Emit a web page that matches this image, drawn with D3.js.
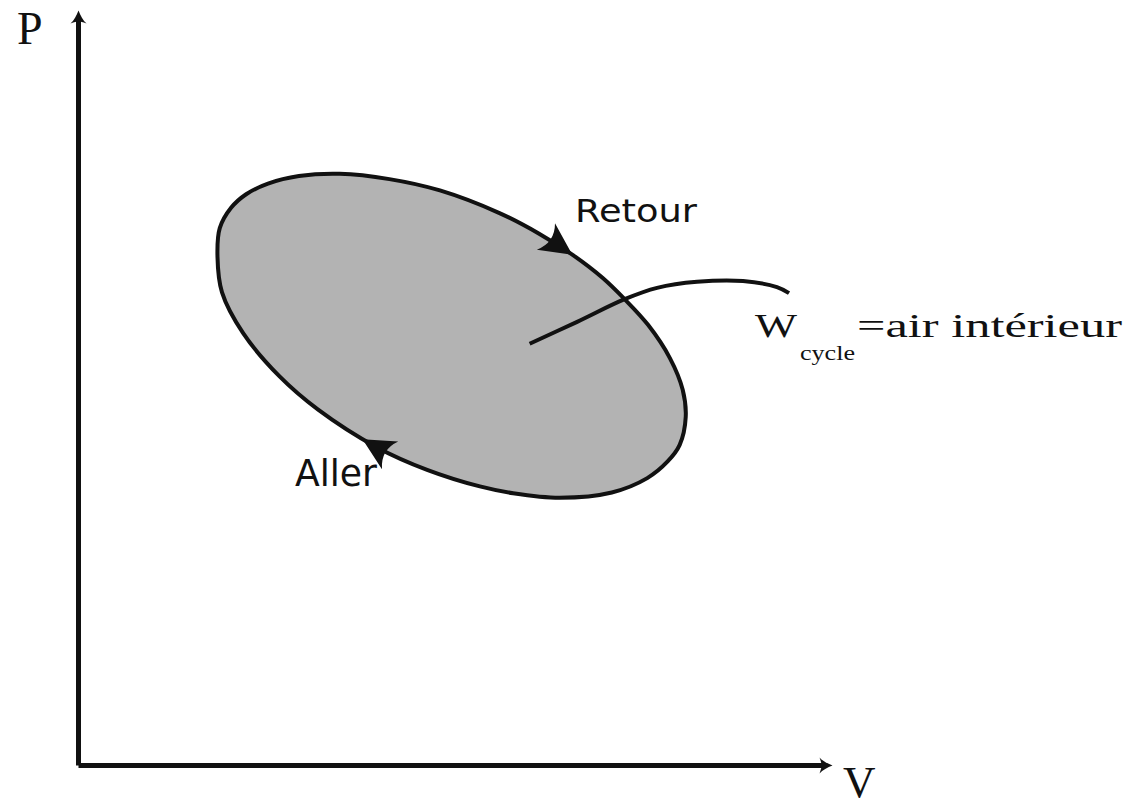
<!DOCTYPE html>
<html>
<head>
<meta charset="utf-8">
<script src="https://cdn.jsdelivr.net/npm/d3@7"></script>
<style>
  html, body { margin: 0; padding: 0; background: #fff; }
  svg { display: block; }
  .axis .domain { stroke: #111; stroke-width: 5; }
  .serif { font-family: 'Liberation Serif', 'Times New Roman', serif; fill: #111; }
  .sans { font-family: 'DejaVu Sans', sans-serif; fill: #111; }
</style>
</head>
<body>
<div id="chart"></div>
<script>
// cycle outline (V, P), clockwise from the left end
var cycleV = [1.85, 1.88, 2.03, 2.23, 2.52, 2.93, 3.47, 4.13, 4.80, 5.59, 6.11, 6.57, 6.96, 7.25, 7.56, 7.85,
  8.02, 8.06, 7.98, 7.82, 7.55, 7.08, 6.39, 5.77, 5.33, 4.63, 3.96, 3.18, 2.67, 2.19, 1.91];
var cycleP = [6.73, 7.11, 7.38, 7.56, 7.70, 7.80, 7.83, 7.76, 7.61, 7.31, 7.04, 6.75, 6.45, 6.17, 5.83, 5.39,
  4.97, 4.61, 4.24, 4.02, 3.80, 3.61, 3.54, 3.60, 3.69, 3.91, 4.21, 4.71, 5.15, 5.72, 6.26];
// leader line from the area to the label
var leaderV = [5.99, 6.62, 7.25, 7.68, 8.21, 8.82, 9.27, 9.43];
var leaderP = [5.58, 5.87, 6.17, 6.32, 6.40, 6.41, 6.33, 6.25];
// direction arrows on the cycle (tip position)
var arrowNames = ['Retour', 'Aller'];
var arrowV = [6.53, 3.78];
var arrowP = [6.77, 4.28];
// axis labels
var axisNames = ['V', 'P'];
var domainV = [0, 10];
var domainP = [0, 10];

function draw () {
  var width = 1130;
  var height = 801;
  var svg = d3.select('#chart').append('svg')
    .attr('width', width)
    .attr('height', height);

  var x = d3.scaleLinear().domain(domainV).range([78, 832]);
  var y = d3.scaleLinear().domain(domainP).range([765, 10]);

  // arrow head for the axes
  var defs = svg.append('defs');
  defs.append('marker')
    .attr('id', 'axisHead')
    .attr('markerUnits', 'userSpaceOnUse')
    .attr('viewBox', '-6 -9 22 18')
    .attr('markerWidth', 22)
    .attr('markerHeight', 18)
    .attr('refX', 0)
    .attr('refY', 0)
    .attr('orient', 'auto')
    .append('path')
    .attr('d', 'M9,0 C4,-2 -1,-4.5 -4,-8 C-2.5,-4 -2,-2 -2,0 C-2,2 -2.5,4 -4,8 C-1,4.5 4,2 9,0Z')
    .attr('fill', '#111');

  // axes without ticks, line stops short so the head covers it
  var xAxisScale = x.copy().range([x(domainV[0]), x(domainV[1]) - 9]);
  var yAxisScale = y.copy().range([y(domainP[0]), y(domainP[1]) + 9]);
  var gx = svg.append('g')
    .attr('class', 'axis')
    .attr('transform', 'translate(0,' + y(domainP[0]) + ')')
    .call(d3.axisBottom(xAxisScale).tickValues([]).tickSizeOuter(0));
  var gy = svg.append('g')
    .attr('class', 'axis')
    .attr('transform', 'translate(' + x(domainV[0]) + ',0)')
    .call(d3.axisLeft(yAxisScale).tickValues([]).tickSizeOuter(0));
  gx.select('.domain').attr('marker-end', 'url(#axisHead)');
  gy.select('.domain').attr('marker-end', 'url(#axisHead)');

  svg.append('text').attr('class', 'serif')
    .attr('x', 843).attr('y', 797)
    .style('font-size', '45px')
    .text(axisNames[0]);
  svg.append('text').attr('class', 'serif')
    .attr('x', 17).attr('y', 44)
    .style('font-size', '46px')
    .text(axisNames[1]);

  // the cycle
  var cycle = cycleV.map(function (v, i) { return [v, cycleP[i]]; });
  var cycleLine = d3.line()
    .x(function (d) { return x(d[0]); })
    .y(function (d) { return y(d[1]); })
    .curve(d3.curveCatmullRomClosed.alpha(0.5));
  var cyclePath = svg.append('path')
    .datum(cycle)
    .attr('d', cycleLine)
    .attr('fill', '#b3b3b3')
    .attr('stroke', '#111')
    .attr('stroke-width', 4);

  // leader line
  var leader = leaderV.map(function (v, i) { return [v, leaderP[i]]; });
  svg.append('path')
    .datum(leader)
    .attr('d', d3.line()
      .x(function (d) { return x(d[0]); })
      .y(function (d) { return y(d[1]); })
      .curve(d3.curveCatmullRom))
    .attr('fill', 'none')
    .attr('stroke', '#111')
    .attr('stroke-width', 4);

  // stealth arrows along the cycle, placed at the nearest point of the path
  var node = cyclePath.node();
  var total = node.getTotalLength();
  arrowV.forEach(function (v, i) {
    var px = x(v);
    var py = y(arrowP[i]);
    var best = 0;
    var bestD = Infinity;
    for (var l = 0; l < total; l += 0.5) {
      var p = node.getPointAtLength(l);
      var dd = (p.x - px) * (p.x - px) + (p.y - py) * (p.y - py);
      if (dd < bestD) { bestD = dd; best = l; }
    }
    var p0 = node.getPointAtLength(Math.max(best - 3, 0));
    var p1 = node.getPointAtLength(Math.min(best + 3, total));
    var tip = node.getPointAtLength(best);
    var ang = Math.atan2(p1.y - p0.y, p1.x - p0.x) * 180 / Math.PI;
    svg.append('path')
      .attr('class', 'arrow-' + arrowNames[i])
      .attr('d', 'M2,0 L-30,-16 Q-19,0 -30,16 Z')
      .attr('fill', '#111')
      .attr('transform', 'translate(' + tip.x + ',' + tip.y + ') rotate(' + ang + ')');
  });

  // labels
  svg.append('text').attr('class', 'sans')
    .attr('x', 575).attr('y', 222)
    .style('font-size', '31.5px')
    .attr('textLength', 122)
    .attr('lengthAdjust', 'spacingAndGlyphs')
    .text(arrowNames[0]);
  svg.append('text').attr('class', 'sans')
    .attr('x', 295).attr('y', 486)
    .style('font-size', '38px')
    .attr('textLength', 82)
    .attr('lengthAdjust', 'spacingAndGlyphs')
    .text(arrowNames[1]);

  svg.append('text').attr('class', 'serif')
    .attr('x', 755).attr('y', 337)
    .style('font-size', '33px')
    .attr('textLength', 42)
    .attr('lengthAdjust', 'spacingAndGlyphs')
    .text('W');
  svg.append('text').attr('class', 'serif')
    .attr('x', 800).attr('y', 360)
    .style('font-size', '22px')
    .attr('textLength', 55)
    .attr('lengthAdjust', 'spacingAndGlyphs')
    .text('cycle');
  svg.append('text').attr('class', 'serif')
    .attr('x', 857).attr('y', 337)
    .style('font-size', '33px')
    .attr('textLength', 265)
    .attr('lengthAdjust', 'spacingAndGlyphs')
    .text('=air intérieur');
}

window.addEventListener('load', function () {
  draw();
});
</script>
</body>
</html>
